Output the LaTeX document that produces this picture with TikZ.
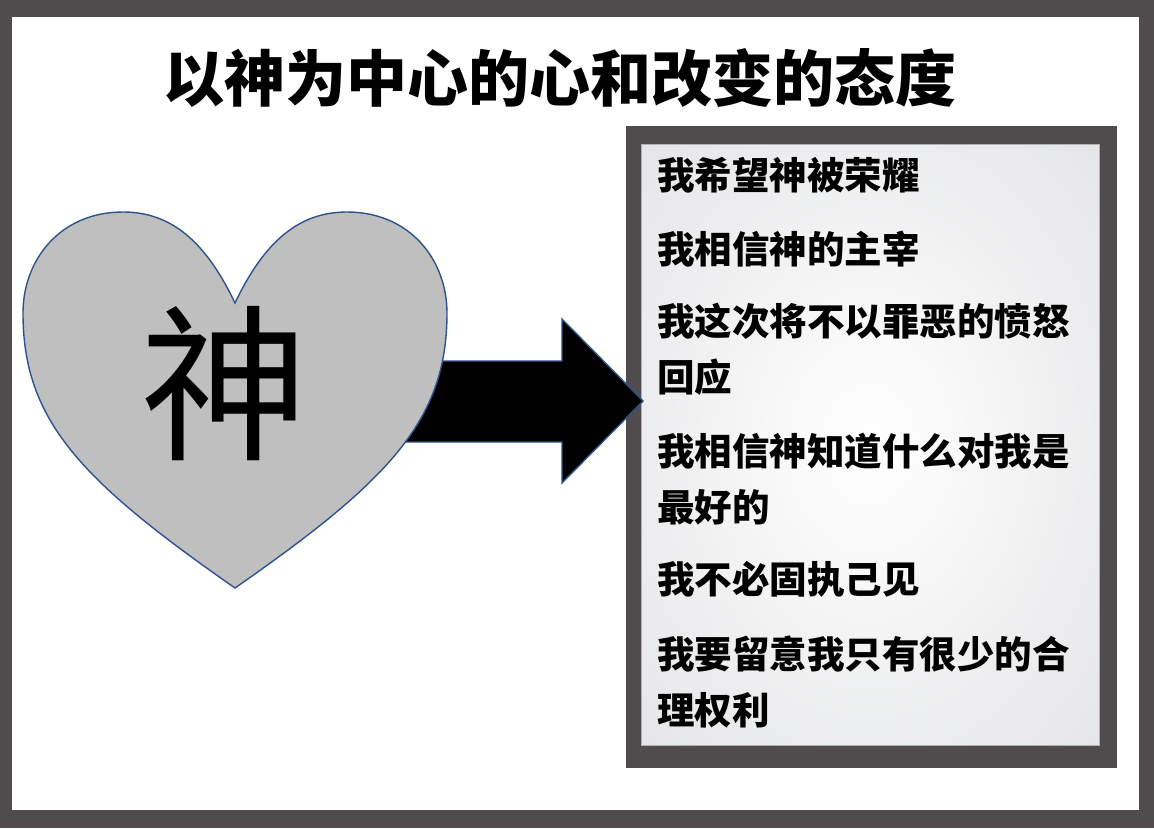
\documentclass[tikz,border=0pt]{standalone}
\usepackage{fontspec}
\usepackage{tikz}
\newfontfamily\cjkfont{Noto Sans CJK SC}
\definecolor{framegray}{RGB}{80,76,77}
\definecolor{heartgray}{RGB}{191,191,191}
\definecolor{edgeblue}{RGB}{47,82,143}
\definecolor{paneledge}{RGB}{218,219,222}
\pgfdeclareradialshading{panelglow}{\pgfpoint{0bp}{0bp}}{color(0bp)=(white); color(50bp)=(paneledge)}
\tikzstyle{every node}=[inner sep=0pt]
\tikzstyle{title}=[font=\cjkfont\bfseries\fontsize{61}{70}\selectfont]
\tikzstyle{item}=[anchor=west, align=left, font=\cjkfont\bfseries\fontsize{37.5}{56}\selectfont]
\tikzstyle{core}=[font=\cjkfont\fontsize{168}{180}\selectfont]
\tikzstyle{blueline}=[draw=edgeblue, line width=1.4pt]

\begin{document}
\begin{tikzpicture}[x=1pt,y=-1pt]
 \fill[framegray] (0,0) rectangle (1154,828);
 \fill[white] (12,17) rectangle (1139,810);
 \node[title] (title) at (560,78) {以神为中心的心和改变的态度};
 % panel on the right
 \fill[framegray] (626,126) rectangle (1117,768);
 \shade[shading=panelglow, draw=gray!60] (641,144) rectangle (1099,745);
 \node[item] (hope) at (657,175) {我希望神被荣耀};
 \node[item] (rule) at (657,249) {我相信神的主宰};
 \node[item] (anger) at (657,349) {我这次将不以罪恶的愤怒\\回应};
 \node[item] (best) at (657,479) {我相信神知道什么对我是\\最好的};
 \node[item] (stubborn) at (657,579) {我不必固执己见};
 \node[item] (rights) at (657,682) {我要留意我只有很少的合\\理权利};
 % arrow
 \filldraw[fill=black, blueline] (390,361) -- (562,361) -- (562,319) -- (643,401)
   -- (562,483) -- (562,442) -- (390,442) -- cycle;
 % heart
 \filldraw[fill=heartgray, blueline] (235,303)
   .. controls (265,240) and (300,212) .. (347,212)
   .. controls (410,212) and (447,260) .. (447,313)
   .. controls (447,420) and (390,480) .. (235,588)
   .. controls (80,480) and (23,420) .. (23,313)
   .. controls (23,260) and (60,212) .. (123,212)
   .. controls (170,212) and (205,240) .. (235,303) -- cycle;
 \node[core] (god) at (224,384) {神};
\end{tikzpicture}
\end{document}
